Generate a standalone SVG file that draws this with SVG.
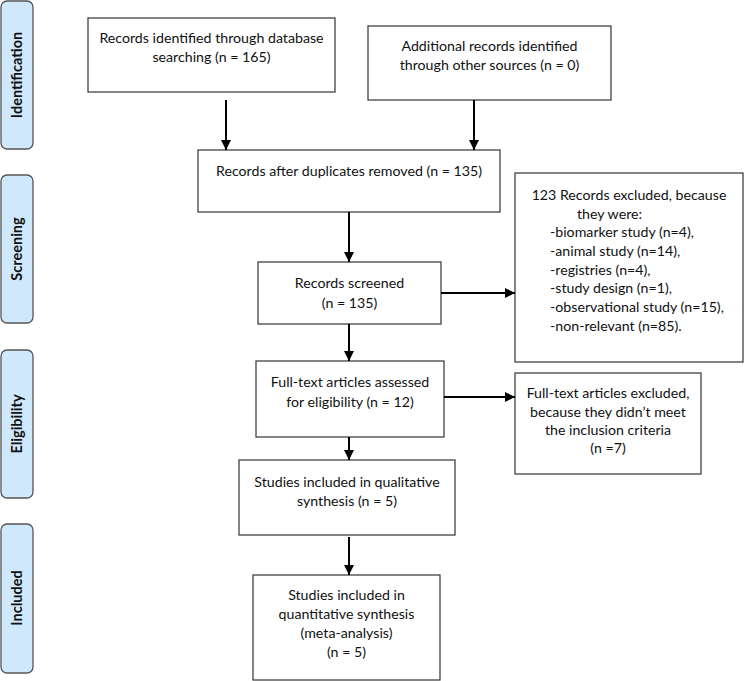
<svg xmlns="http://www.w3.org/2000/svg" width="744" height="681" viewBox="0 0 744 681">
<style>
.phase{fill:#cfe8fb;stroke:#555;stroke-width:1.3}
.box{fill:#fff;stroke:#333;stroke-width:1.2}
.pt{font-family:Lato,"Open Sans",sans-serif;font-weight:bold;font-size:14.5px;fill:#111;text-anchor:middle}
.t{font-family:Lato,"Open Sans",sans-serif;font-size:14.2px;fill:#111;text-anchor:middle}
.tl{text-anchor:start}
.c{stroke:#000;stroke-width:2;fill:none;marker-end:url(#ah)}
</style>
<defs>
<marker id="ah" viewBox="0 0 10 10" refX="10" refY="5" markerWidth="5" markerHeight="5" orient="auto" markerUnits="strokeWidth">
<path d="M0,0 L10,5 L0,10 z" fill="#000"/>
</marker>
</defs>
<rect width="744" height="681" fill="#fff"/>
<g id="phase-identification"><rect class="phase" x="1" y="1" width="32" height="148" rx="6"/><text class="pt" transform="translate(22,75) rotate(-90)">Identification</text></g>
<g id="phase-screening"><rect class="phase" x="1" y="175" width="32" height="148" rx="6"/><text class="pt" transform="translate(22,249) rotate(-90)">Screening</text></g>
<g id="phase-eligibility"><rect class="phase" x="1" y="350" width="32" height="148" rx="6"/><text class="pt" transform="translate(22,424) rotate(-90)">Eligibility</text></g>
<g id="phase-included"><rect class="phase" x="1" y="524" width="32" height="149" rx="6"/><text class="pt" transform="translate(22,598) rotate(-90)">Included</text></g>

<g id="n-database"><rect class="box" x="88" y="18" width="247" height="74"/><text class="t" x="211.5" y="43">Records identified through database</text><text class="t" x="211.5" y="62">searching (n = 165)</text></g>
<g id="n-other"><rect class="box" x="368" y="26" width="243" height="74"/><text class="t" x="489.5" y="51">Additional records identified</text><text class="t" x="489.5" y="70">through other sources (n = 0)</text></g>
<g id="n-duplicates"><rect class="box" x="198" y="150" width="302" height="62"/><text class="t" x="349" y="176">Records after duplicates removed (n = 135)</text></g>
<g id="n-screened"><rect class="box" x="258" y="262" width="183" height="62"/><text class="t" x="349.5" y="288">Records screened</text><text class="t" x="349.5" y="308">(n = 135)</text></g>
<g id="n-fulltext"><rect class="box" x="256" y="361" width="188" height="76"/><text class="t" x="350" y="387">Full-text articles assessed</text><text class="t" x="350" y="407">for eligibility (n = 12)</text></g>
<g id="n-qualitative"><rect class="box" x="239" y="460" width="216" height="75"/><text class="t" x="347" y="487">Studies included in qualitative</text><text class="t" x="347" y="506">synthesis (n = 5)</text></g>
<g id="n-quantitative"><rect class="box" x="253" y="575" width="187" height="105"/><text class="t" x="346.5" y="600">Studies included in</text><text class="t" x="346.5" y="619">quantitative synthesis</text><text class="t" x="346.5" y="638">(meta-analysis)</text><text class="t" x="346.5" y="657">(n = 5)</text></g>
<g id="n-excluded1"><rect class="box" x="515" y="173" width="228" height="189"/>
<text class="t" x="629" y="200">123 Records excluded, because</text>
<text class="t tl" x="577" y="218.6">they were:</text>
<text class="t tl" x="550" y="237.3">-biomarker study (n=4),</text>
<text class="t tl" x="550" y="256">-animal study (n=14),</text>
<text class="t tl" x="550" y="274.6">-registries (n=4),</text>
<text class="t tl" x="550" y="293.3">-study design (n=1),</text>
<text class="t tl" x="550" y="312">-observational study (n=15),</text>
<text class="t tl" x="550" y="330.6">-non-relevant (n=85).</text></g>
<g id="n-excluded2"><rect class="box" x="515" y="373" width="186" height="101"/><text class="t" x="608" y="398">Full-text articles excluded,</text><text class="t" x="608" y="417">because they didn’t meet</text><text class="t" x="608" y="435">the inclusion criteria</text><text class="t" x="608" y="453">(n =7)</text></g>

<g id="connectors">
<line class="c" x1="226" y1="100" x2="226" y2="150"/>
<line class="c" x1="474" y1="100" x2="474" y2="150"/>
<line class="c" x1="349" y1="212" x2="349" y2="262"/>
<line class="c" x1="349" y1="324" x2="349" y2="361"/>
<line class="c" x1="349" y1="437" x2="349" y2="460"/>
<line class="c" x1="349" y1="537" x2="349" y2="575"/>
<line class="c" x1="441" y1="293" x2="515" y2="293"/>
<line class="c" x1="444" y1="397" x2="515" y2="397"/>
</g>
</svg>
